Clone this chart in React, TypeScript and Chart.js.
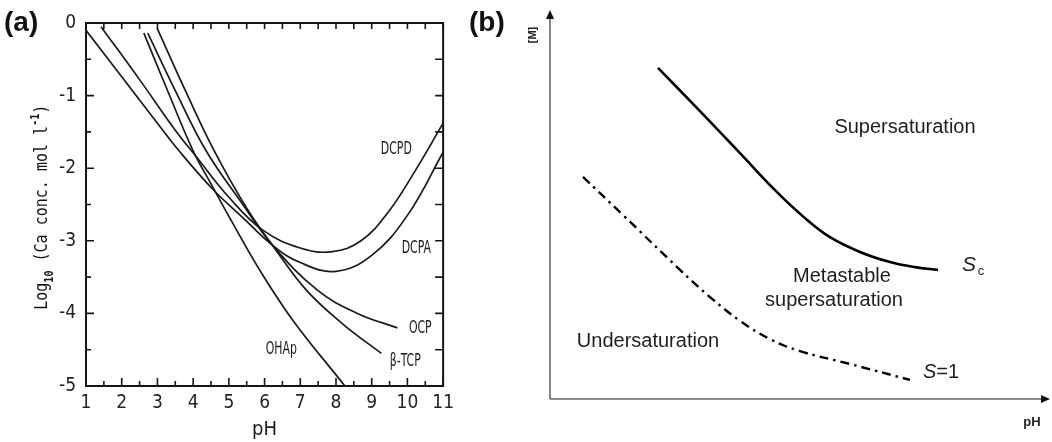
import React, { useEffect, useRef } from "react";
import { Chart, registerables } from "chart.js";

Chart.register(...registerables);

// ---------- Panel (a): solubility isotherms ----------
const phTicks = [1, 2, 3, 4, 5, 6, 7, 8, 9, 10, 11];
const logTicks = [-5, -4, -3, -2, -1, 0];

const dcpdPH = [1.42, 2.5, 3.49, 4.1, 5.0, 5.94, 7.0, 7.9, 8.7, 9.44, 10.2, 11.0];
const dcpdLog = [-0.05, -0.78, -1.47, -1.85, -2.4, -2.85, -3.1, -3.15, -3.0, -2.62, -2.05, -1.38];

const dcpaPH = [1.0, 2.0, 3.0, 3.57, 4.55, 5.39, 6.22, 7.0, 8.0, 9.0, 10.0, 11.0];
const dcpaLog = [-0.1, -0.74, -1.38, -1.74, -2.29, -2.68, -3.06, -3.3, -3.42, -3.2, -2.65, -1.78];

const ocpPH = [2.73, 3.5, 4.35, 5.39, 6.22, 7.48, 8.6, 9.72];
const ocpLog = [-0.14, -0.93, -1.75, -2.5, -3.06, -3.68, -4.0, -4.2];

const tcpPH = [3.0, 3.8, 4.58, 5.5, 6.22, 7.17, 8.2, 9.27];
const tcpLog = [-0.08, -0.95, -1.75, -2.55, -3.06, -3.68, -4.15, -4.55];

const ohapPH = [2.62, 3.3, 3.99, 4.55, 5.1, 5.86, 6.8, 8.25];
const ohapLog = [-0.14, -0.95, -1.75, -2.26, -2.75, -3.4, -4.1, -5.0];

const curveNames = ["DCPD", "DCPA", "OCP", "β-TCP", "OHAp"];
const curveLabelPH = [9.69, 10.25, 10.36, 9.94, 6.47];
const curveLabelLog = [-1.74, -3.11, -4.21, -4.66, -4.5];

// ---------- Panel (b): schematic ----------
const scX = [2.16, 3.0, 3.8, 4.5, 5.1, 5.6, 6.2, 6.8, 7.3, 7.76];
const scY = [8.51, 7.4, 6.32, 5.37, 4.65, 4.16, 3.78, 3.52, 3.39, 3.32];
const s1X = [0.66, 1.46, 2.6, 3.2, 3.8, 4.4, 5.0, 6.0, 7.2];
const s1Y = [5.71, 4.73, 3.32, 2.62, 2.01, 1.54, 1.23, 0.9, 0.49];

const regionLabels = ["Supersaturation", "Undersaturation", "Metastable", "supersaturation"];
const regionX = [7.1, 1.96, 5.84, 5.68];
const regionY = [6.99, 1.49, 3.14, 2.52];

const NARROW = "'Liberation Sans Narrow', 'DejaVu Sans Condensed', 'Liberation Sans', sans-serif";
const MONO = "'DejaVu Sans Mono', 'Liberation Mono', monospace";
const SANS = "'Liberation Sans', Arial, sans-serif";

const pts = (xs: number[], ys: number[]) => xs.map((x, i) => ({ x, y: ys[i] }));

const panelAPlugin = {
  id: "panelA",
  afterDraw(chart: any) {
    const { ctx, chartArea } = chart;
    const { left, right, top, bottom } = chartArea;
    const xs = chart.scales.x;
    const ys = chart.scales.y;
    ctx.save();
    // frame
    ctx.strokeStyle = "#151515";
    ctx.lineWidth = 2;
    ctx.strokeRect(left, top, right - left, bottom - top);
    // inward ticks
    ctx.lineWidth = 1.6;
    ctx.beginPath();
    for (let v = phTicks[0]; v <= phTicks[phTicks.length - 1] + 1e-9; v += 0.5) {
      const px = xs.getPixelForValue(v);
      const major = Math.abs(v - Math.round(v)) < 1e-6;
      const lb = major ? 8 : 5;
      const lt = 6;
      ctx.moveTo(px, bottom);
      ctx.lineTo(px, bottom - lb);
      ctx.moveTo(px, top);
      ctx.lineTo(px, top + lt);
    }
    for (let v = logTicks[0]; v <= logTicks[logTicks.length - 1] + 1e-9; v += 0.5) {
      const py = ys.getPixelForValue(v);
      const major = Math.abs(v - Math.round(v)) < 1e-6;
      const ll = major ? 8 : 5;
      ctx.moveTo(left, py);
      ctx.lineTo(left + ll, py);
      ctx.moveTo(right, py);
      ctx.lineTo(right - 8, py);
    }
    ctx.stroke();

    // curve labels (condensed)
    ctx.fillStyle = "#1a1a1a";
    ctx.font = `17px ${NARROW}`;
    const sx = 31 / ctx.measureText("DCPD").width;
    ctx.textBaseline = "middle";
    ctx.textAlign = "center";
    curveNames.forEach((name, i) => {
      const px = xs.getPixelForValue(curveLabelPH[i]);
      const py = ys.getPixelForValue(curveLabelLog[i]);
      ctx.save();
      ctx.translate(px, py);
      ctx.scale(sx, 1);
      ctx.fillText(name, 0, 0);
      ctx.restore();
    });

    // x title
    ctx.font = `20px ${NARROW}`;
    ctx.fillText("pH", (left + right) / 2, bottom + 44);

    // y title with subscript / superscript
    const parts = [
      { t: "Log", s: 0 },
      { t: "10", s: 1 },
      { t: " (Ca conc. mol l", s: 0 },
      { t: "-1", s: -1 },
      { t: ")", s: 0 },
    ];
    const bigF = `18px ${MONO}`;
    const smallF = `bold 12px ${MONO}`;
    let total = 0;
    parts.forEach((p) => {
      ctx.font = p.s === 0 ? bigF : smallF;
      total += ctx.measureText(p.t).width;
    });
    const k = 205 / total;
    ctx.save();
    ctx.fillStyle = "#151515";
    ctx.translate(left - 39, ys.getPixelForValue(-3.95));
    ctx.rotate(-Math.PI / 2);
    ctx.scale(k, 1);
    ctx.textAlign = "left";
    ctx.textBaseline = "alphabetic";
    let cx = 0;
    parts.forEach((p) => {
      ctx.font = p.s === 0 ? bigF : smallF;
      const dy = p.s === 1 ? 6 : p.s === -1 ? -8 : 0;
      ctx.fillText(p.t, cx, dy);
      cx += ctx.measureText(p.t).width;
    });
    ctx.restore();

    // panel label
    ctx.font = `bold 28px ${SANS}`;
    ctx.textAlign = "left";
    ctx.textBaseline = "alphabetic";
    ctx.fillStyle = "#111";
    ctx.fillText("(a)", 4, 31);
    ctx.restore();
  },
};

const panelBPlugin = {
  id: "panelB",
  afterDraw(chart: any) {
    const { ctx, chartArea } = chart;
    const { left, right, top, bottom } = chartArea;
    const xs = chart.scales.x;
    const ys = chart.scales.y;
    ctx.save();
    // axes
    ctx.strokeStyle = "#666";
    ctx.lineWidth = 1.6;
    ctx.beginPath();
    ctx.moveTo(left, bottom);
    ctx.lineTo(left, top + 6);
    ctx.moveTo(left, bottom);
    ctx.lineTo(right - 6, bottom);
    ctx.stroke();
    ctx.fillStyle = "#111";
    ctx.beginPath();
    ctx.moveTo(left, top);
    ctx.lineTo(left - 4, top + 9);
    ctx.lineTo(left + 4, top + 9);
    ctx.closePath();
    ctx.fill();
    ctx.beginPath();
    ctx.moveTo(right, bottom);
    ctx.lineTo(right - 9, bottom - 4);
    ctx.lineTo(right - 9, bottom + 4);
    ctx.closePath();
    ctx.fill();

    // axis titles
    ctx.fillStyle = "#222";
    ctx.font = `bold 11px ${SANS}`;
    ctx.textAlign = "center";
    ctx.textBaseline = "middle";
    ctx.save();
    ctx.translate(left - 17, top + 25);
    ctx.rotate(-Math.PI / 2);
    ctx.fillText("[M]", 0, 0);
    ctx.restore();
    ctx.font = `bold 13px ${SANS}`;
    ctx.fillText("pH", right - 18, bottom + 23);

    // region labels
    ctx.font = `20px ${SANS}`;
    ctx.fillStyle = "#1e1e1e";
    regionLabels.forEach((t, i) => {
      ctx.fillText(t, xs.getPixelForValue(regionX[i]), ys.getPixelForValue(regionY[i]));
    });

    // S_c
    const scPx = xs.getPixelForValue(8.38);
    const scPy = ys.getPixelForValue(3.44);
    ctx.font = `italic 21px ${SANS}`;
    ctx.fillText("S", scPx, scPy);
    ctx.font = `13px ${SANS}`;
    ctx.fillText("c", scPx + 12, scPy + 6);

    // S=1
    const s1Px = xs.getPixelForValue(7.46);
    const s1Py = ys.getPixelForValue(0.69);
    ctx.textAlign = "left";
    ctx.font = `italic 20px ${SANS}`;
    ctx.fillText("S", s1Px, s1Py);
    const w = ctx.measureText("S").width;
    ctx.font = `20px ${SANS}`;
    ctx.fillText("=1", s1Px + w, s1Py);

    // panel label
    ctx.font = `bold 28px ${SANS}`;
    ctx.textBaseline = "alphabetic";
    ctx.fillStyle = "#111";
    ctx.fillText("(b)", 9, 31);
    ctx.restore();
  },
};

function PanelA() {
  const ref = useRef<HTMLCanvasElement>(null);
  useEffect(() => {
    const tickFont = { family: NARROW, size: 19 };
    const line = (data: { x: number; y: number }[]) => ({
      data,
      borderColor: "#1a1a1a",
      borderWidth: 1.7,
      pointRadius: 0,
      fill: false,
      tension: 0.4,
    });
    const chart = new Chart(ref.current!, {
      type: "line",
      data: {
        datasets: [
          line(pts(dcpdPH, dcpdLog)),
          line(pts(dcpaPH, dcpaLog)),
          line(pts(ocpPH, ocpLog)),
          line(pts(tcpPH, tcpLog)),
          line(pts(ohapPH, ohapLog)),
        ],
      },
      options: {
        responsive: false,
        animation: false,
        events: [],
        layout: { padding: { top: 23, right: 16, left: 0, bottom: 0 } },
        plugins: { legend: { display: false }, tooltip: { enabled: false } },
        scales: {
          x: {
            type: "linear",
            min: phTicks[0],
            max: phTicks[phTicks.length - 1],
            grid: { display: false, drawTicks: false },
            border: { display: false },
            afterBuildTicks: (s: any) => {
              s.ticks = phTicks.map((v) => ({ value: v }));
            },
            ticks: {
              autoSkip: false,
              maxRotation: 0,
              padding: 6,
              color: "#222",
              font: tickFont,
              callback: (v: any) => String(v),
            },
            afterFit: (s: any) => {
              s.height = 56;
            },
          },
          y: {
            type: "linear",
            min: logTicks[0],
            max: logTicks[logTicks.length - 1],
            grid: { display: false, drawTicks: false },
            border: { display: false },
            afterBuildTicks: (s: any) => {
              s.ticks = logTicks.map((v) => ({ value: v }));
            },
            ticks: {
              autoSkip: false,
              padding: 10,
              color: "#222",
              font: tickFont,
              callback: (v: any) => String(v),
            },
            afterFit: (s: any) => {
              s.width = 86;
            },
          },
        },
      },
      plugins: [panelAPlugin],
    } as any);
    return () => chart.destroy();
  }, []);
  return (
    <canvas
      ref={ref}
      width={460}
      height={442}
      style={{ position: "absolute", left: 0, top: 0, width: 460, height: 442 }}
    />
  );
}

function PanelB() {
  const ref = useRef<HTMLCanvasElement>(null);
  useEffect(() => {
    const chart = new Chart(ref.current!, {
      type: "line",
      data: {
        datasets: [
          {
            data: pts(scX, scY),
            borderColor: "#000",
            borderWidth: 2.6,
            pointRadius: 0,
            fill: false,
            tension: 0.4,
          },
          {
            data: pts(s1X, s1Y),
            borderColor: "#000",
            borderWidth: 2.4,
            borderDash: [9, 5, 2.5, 5],
            pointRadius: 0,
            fill: false,
            tension: 0.4,
          },
        ],
      },
      options: {
        responsive: false,
        animation: false,
        events: [],
        layout: { padding: { left: 90, right: 2, top: 10, bottom: 43 } },
        plugins: { legend: { display: false }, tooltip: { enabled: false } },
        scales: {
          x: { type: "linear", min: 0, max: 10, display: false },
          y: { type: "linear", min: 0, max: 10, display: false },
        },
      },
      plugins: [panelBPlugin],
    } as any);
    return () => chart.destroy();
  }, []);
  return (
    <canvas
      ref={ref}
      width={592}
      height={442}
      style={{ position: "absolute", left: 460, top: 0, width: 592, height: 442 }}
    />
  );
}

export default function App() {
  return (
    <div
      style={{
        position: "absolute",
        left: 0,
        top: 0,
        width: 1052,
        height: 442,
        background: "#fff",
        overflow: "hidden",
      }}
    >
      <PanelA />
      <PanelB />
    </div>
  );
}
